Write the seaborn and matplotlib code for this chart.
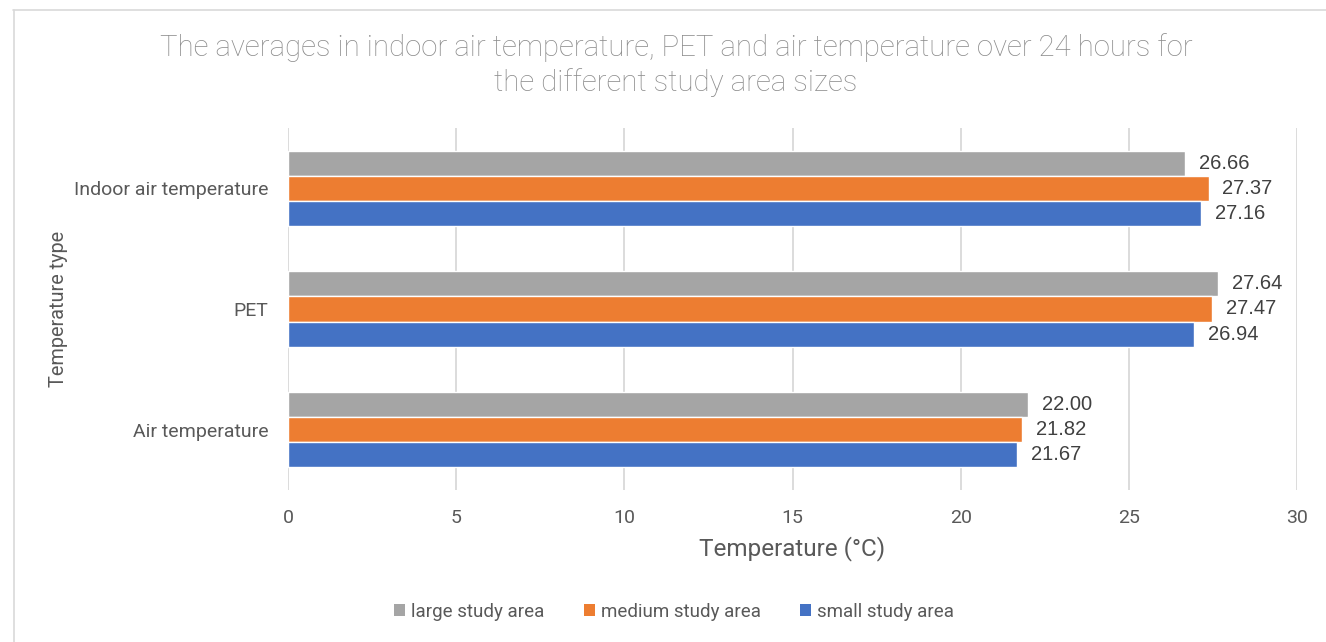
import matplotlib
matplotlib.use("Agg")
import matplotlib.pyplot as plt
from matplotlib.lines import Line2D
from matplotlib.patches import Patch
import seaborn as sns
import pandas as pd

# Chart data
categories = ["Indoor air temperature", "PET", "Air temperature"]
series_names = ["large study area", "medium study area", "small study area"]
large_vals = [26.66, 27.64, 22.00]
medium_vals = [27.37, 27.47, 21.82]
small_vals = [27.16, 26.94, 21.67]
x_ticks = [0, 5, 10, 15, 20, 25, 30]
colors = ["#A5A5A5", "#ED7D31", "#4472C4"]

rows = []
for name, vals in zip(series_names, [large_vals, medium_vals, small_vals]):
    for cat, v in zip(categories, vals):
        rows.append({"Temperature type": cat, "Temperature": v, "Area": name})
df = pd.DataFrame(rows)

sns.set_theme(style="white")
plt.rcParams["font.family"] = ["Roboto", "DejaVu Sans"]

W, H = 1326, 642
fig = plt.figure(figsize=(W / 100, H / 100), dpi=100)
ax = fig.add_axes([288 / W, 1 - 490 / H, (1297 - 288) / W, (490 - 128) / H])

sns.barplot(data=df, y="Temperature type", x="Temperature", hue="Area",
            order=categories, hue_order=series_names, palette=colors,
            orient="h", width=0.625, gap=0, saturation=1, ax=ax,
            legend=False, errorbar=None)

ax.set_xlim(0, 30)
ax.set_ylim(2.5, -0.5)
ax.set_xticks(x_ticks)
ax.set_xticklabels([str(t) for t in x_ticks])
ax.grid(axis="x", color="#d9d9d9", linewidth=1.3)
ax.set_axisbelow(True)
for s in ax.spines.values():
    s.set_visible(False)
ax.tick_params(axis="both", length=0, colors="#595959", labelsize=14)
ax.tick_params(axis="x", pad=14)
ax.tick_params(axis="y", pad=14)

ax.set_xlabel("Temperature (°C)", fontsize=17.5, color="#595959", labelpad=6)
ax.set_ylabel("Temperature type", fontsize=14.3, color="#595959", labelpad=4)

for cont in ax.containers:
    ax.bar_label(cont, fmt="%.2f", padding=10, fontsize=14.5,
                 color="#404040", family=["Liberation Sans", "DejaVu Sans"])

fig.text(676 / W, 1 - 65 / H,
         "The averages in indoor air temperature, PET and air temperature over 24 hours for\nthe different study area sizes",
         ha="center", va="center", fontsize=21.2, color="#8c8c8c",
         fontweight="light", linespacing=1.25)

handles = [Patch(facecolor=c, edgecolor="none", label=n) for c, n in zip(colors, series_names)]
fig.legend(handles=handles, loc="center", bbox_to_anchor=(674 / W, 1 - 612 / H),
           ncol=3, frameon=False, fontsize=13.5, labelcolor="#595959",
           handlelength=0.6, handleheight=0.6, handletextpad=0.3,
           columnspacing=2.1)

# Chart-area frame (top and left edges)
fig.add_artist(Line2D([13 / W, 1], [1 - 10 / H, 1 - 10 / H], transform=fig.transFigure,
                      color="#d9d9d9", linewidth=1.2))
fig.add_artist(Line2D([13.5 / W, 13.5 / W], [0, 1 - 10 / H], transform=fig.transFigure,
                      color="#d9d9d9", linewidth=1.2))

fig.savefig("out.png", dpi=100, facecolor="white")
